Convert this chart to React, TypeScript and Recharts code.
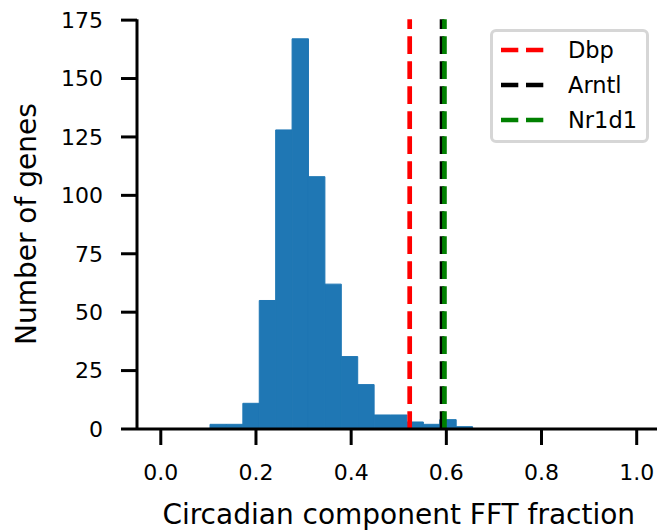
import { ComposedChart, Bar, XAxis, YAxis, ReferenceLine, Legend, Label } from 'recharts';

const FONT = '"DejaVu Sans", sans-serif';

// histogram of per-gene circadian FFT fraction, 29 equal bins over [0, 1]
const BIN_COUNT = 29;
const geneCounts = [
  0, 0, 0, 2, 2, 11, 55, 128, 167, 108, 62, 31, 19, 6, 6, 3, 2, 4, 1,
  0, 0, 0, 0, 0, 0, 0, 0, 0, 0,
];

// clock genes marked with dashed lines
const markerGenes = ['Dbp', 'Arntl', 'Nr1d1'];
const markerValues = [0.523, 0.591, 0.596];
const markerColors = ['#ff0000', '#000000', '#008000'];

const xTicks = [0, 0.2, 0.4, 0.6, 0.8, 1.0];
const yTicks = [0, 25, 50, 75, 100, 125, 150, 175];

const histData = geneCounts.map((count, i) => ({ center: (i + 0.5) / BIN_COUNT, count }));

const axisStroke = { stroke: '#000', strokeWidth: 3 };
const tickStyle = { fill: '#000', fontSize: 22, fontFamily: FONT };
const labelStyle = { fill: '#000', fontSize: 28, fontFamily: FONT };

function MarkerLegend() {
  return (
    <div
      style={{
        boxSizing: 'border-box',
        width: 159,
        height: 114,
        border: '3px solid #d6d6d6',
        borderRadius: 6,
        background: 'rgba(255,255,255,0.8)',
      }}
    >
      <svg width={153} height={108} style={{ display: 'block' }}>
        {markerGenes.map((name, i) => {
          const cy = 18 + i * 35;
          return (
            <g key={name}>
              <line
                x1={8}
                x2={50.3}
                y1={cy}
                y2={cy}
                stroke={markerColors[i]}
                strokeWidth={4.5}
                strokeDasharray="17.3 7.7"
              />
              <text x={75} y={cy + 8} fontSize={22.5} fontFamily={FONT} fill="#000">
                {name}
              </text>
            </g>
          );
        })}
      </svg>
    </div>
  );
}

export default function App() {
  return (
    <div
      style={{
        position: 'fixed',
        left: 0,
        top: 0,
        width: 657,
        height: 531,
        overflow: 'hidden',
        background: '#fff',
      }}
    >
      <ComposedChart
        width={661}
        height={531}
        data={histData}
        margin={{ top: 19.3, right: 0.5, bottom: 0, left: 0 }}
        barCategoryGap={0}
        barGap={0}
      >
        <XAxis
          type="number"
          dataKey="center"
          domain={[-0.05, 1.05]}
          ticks={xTicks}
          interval={0}
          tickFormatter={(v: number) => v.toFixed(1)}
          height={102}
          tickSize={16}
          tickMargin={19}
          axisLine={axisStroke}
          tickLine={axisStroke}
          tick={tickStyle}
        >
          <Label
            value="Circadian component FFT fraction"
            position="insideBottom"
            offset={7}
            fill="#000"
            style={labelStyle}
          />
        </XAxis>
        <YAxis
          type="number"
          domain={[0, 175.35]}
          ticks={yTicks}
          interval={0}
          width={137}
          tickSize={16}
          tickMargin={18}
          axisLine={axisStroke}
          tickLine={axisStroke}
          tick={tickStyle}
        >
          <Label
            value="Number of genes"
            angle={-90}
            position="insideLeft"
            offset={26}
            fill="#000"
            style={{ ...labelStyle, textAnchor: 'middle' }}
          />
        </YAxis>
        {/* bins sit edge to edge; the thin same-colour stroke hides seams */}
        <Bar
          dataKey="count"
          fill="#1f77b4"
          stroke="#1f77b4"
          strokeWidth={1}
          barSize={16.4}
          isAnimationActive={false}
        />
        {markerValues.map((v, i) => (
          <ReferenceLine
            key={markerGenes[i]}
            x={v}
            stroke={markerColors[i]}
            strokeWidth={4.7}
            strokeDasharray="17.7 7.3"
          />
        ))}
        <Legend
          layout="horizontal"
          verticalAlign="middle"
          align="center"
          wrapperStyle={{ left: 490, top: 29, width: 159, height: 114 }}
          content={() => <MarkerLegend />}
        />
      </ComposedChart>
    </div>
  );
}
